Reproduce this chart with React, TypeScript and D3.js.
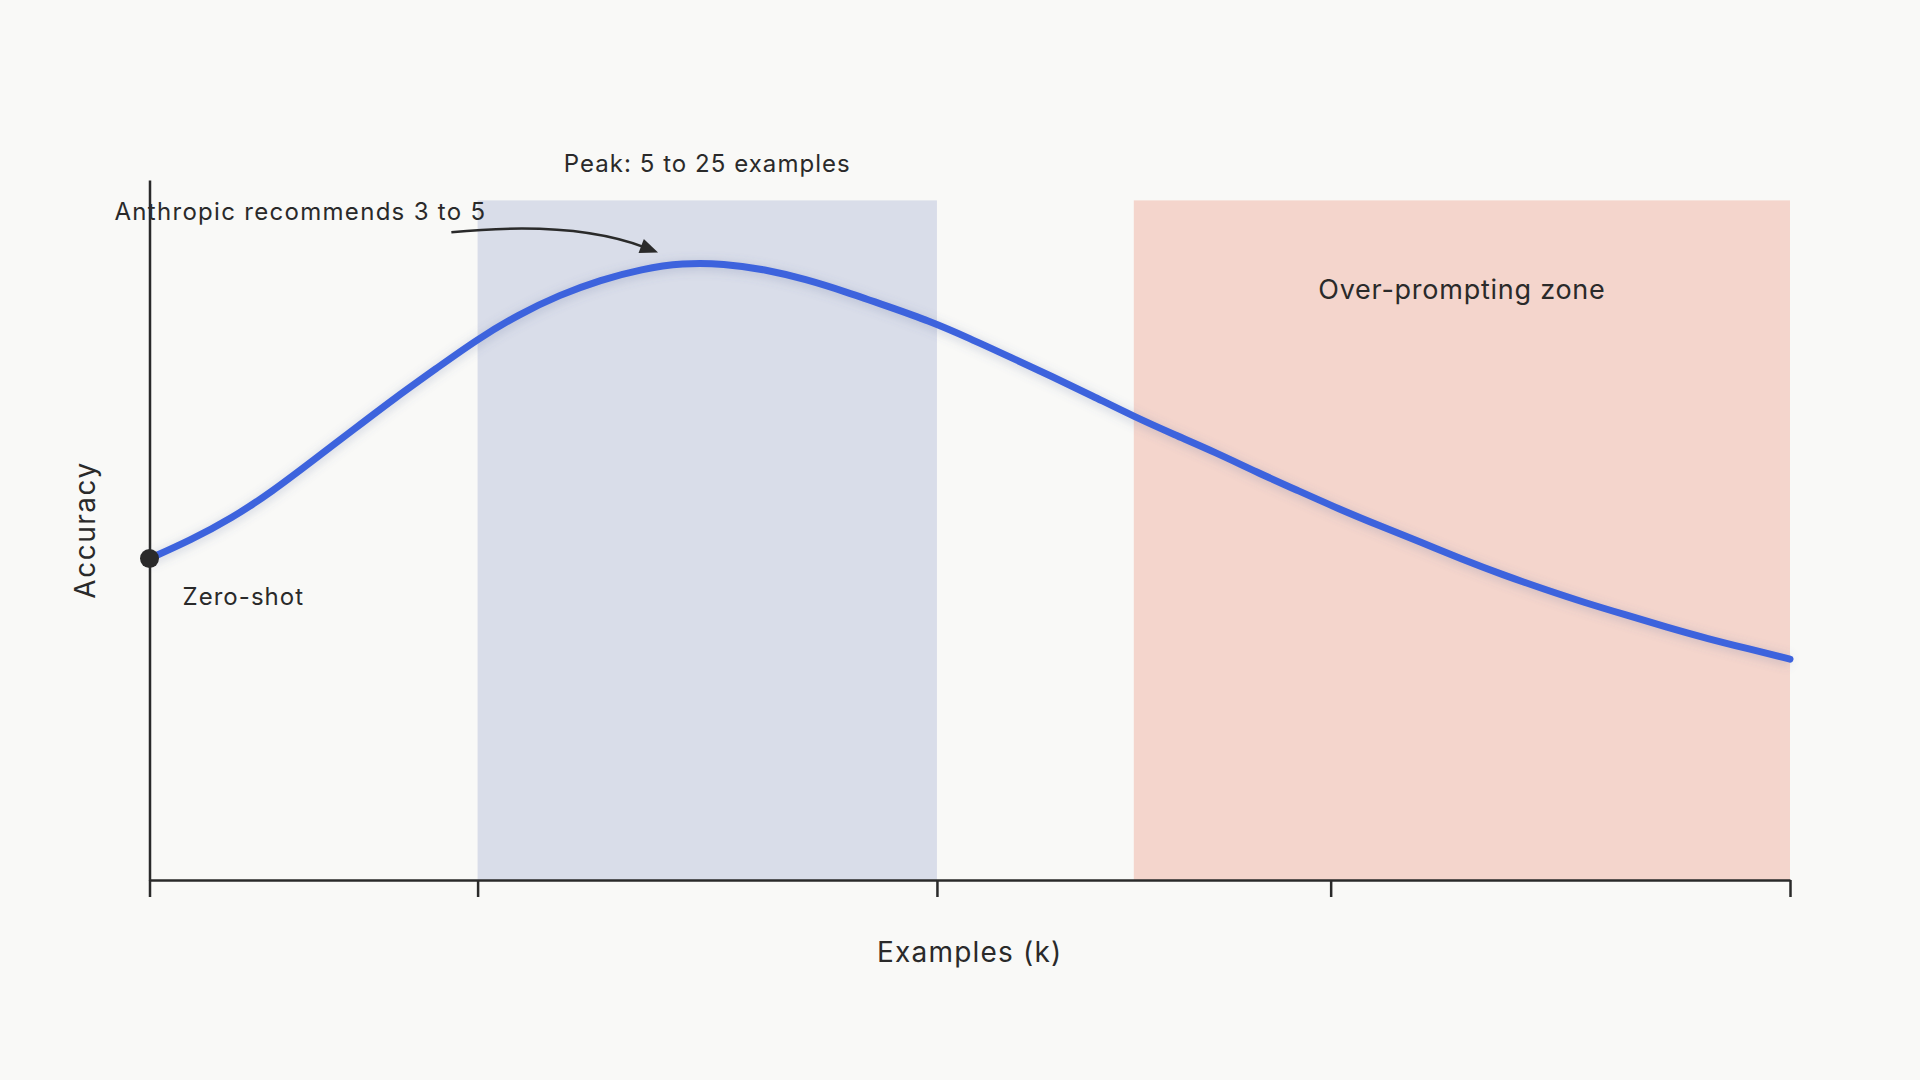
import React, { useEffect, useRef } from 'react';
import * as d3 from 'd3';

// ---- data ----
const curveX = [0, 2.5, 5, 7.5, 10, 12.5, 15, 17.5, 20, 22.5, 25, 27.5, 30, 32.5, 35, 37.5, 40, 42.5, 45, 47.5, 50, 52.5, 55, 57.5, 60, 62.5, 65, 67.5, 70, 72.5, 75, 77.5, 80, 82.5, 85, 87.5, 90, 92.5, 95, 97.5, 100];
const curveY = [47.3, 50.0, 53.2, 57.2, 61.8, 66.4, 71.0, 75.3, 79.6, 83.2, 86.1, 88.3, 89.9, 90.8, 90.7, 89.85, 88.4, 86.5, 84.4, 82.3, 79.7, 76.9, 74.1, 71.2, 68.2, 65.5, 62.9, 60.0, 57.3, 54.6, 52.1, 49.7, 47.2, 44.9, 42.8, 40.8, 39.0, 37.2, 35.5, 34.0, 32.5];
const xTicks = [0, 20, 48, 72, 100];
const peakBand = [20, 48];
const overBand = [60, 100];
const bandTop = [100];
const zeroShot = [0, 47.3];
const arrowStart = [18.4, 95.3];
const arrowControl = [25.77, 97.1];
const arrowEnd = [31.0, 92.35];
const labels = {
  xAxis: 'Examples (k)',
  yAxis: 'Accuracy',
  peak: 'Peak: 5 to 25 examples',
  over: 'Over-prompting zone',
  anthropic: 'Anthropic recommends 3 to 5',
  zero: 'Zero-shot',
};

const W = 1920;
const H = 1080;
const BG = '#f9f9f7';
const INK = '#2a2a2a';
const FONT = 'Inter, "Noto Sans", sans-serif';

export default function App() {
  const xAxisRef = useRef<SVGGElement>(null);
  const yAxisRef = useRef<SVGGElement>(null);

  const x = d3.scaleLinear().domain([0, 100]).range([149.5, 1790]);
  const y = d3.scaleLinear().domain([0, 103]).range([880, 180]);

  const pts: [number, number][] = curveX.map((v, i) => [v, curveY[i]]);
  const line = d3
    .line<[number, number]>()
    .x((d) => x(d[0]))
    .y((d) => y(d[1]))
    .curve(d3.curveBasis);
  const linePath = line(pts) || '';

  useEffect(() => {
    document.body.style.margin = '0';
    document.body.style.background = BG;
    if (xAxisRef.current) {
      const g = d3.select(xAxisRef.current);
      g.selectAll('*').remove();
      g.call(
        d3
          .axisBottom(x)
          .tickValues(xTicks)
          .tickFormat(() => '')
          .tickSize(17)
          .tickSizeOuter(0)
      );
      g.selectAll('path, line').attr('stroke', INK).attr('stroke-width', 2.5);
    }
    if (yAxisRef.current) {
      const g = d3.select(yAxisRef.current);
      g.selectAll('*').remove();
      g.call(d3.axisLeft(y).tickValues([]).tickSizeOuter(0));
      g.selectAll('path').attr('stroke', INK).attr('stroke-width', 2.5);
    }
  }, []);

  // arrow geometry from data coords
  const p0 = [x(arrowStart[0]), y(arrowStart[1])];
  const pc = [x(arrowControl[0]), y(arrowControl[1])];
  const p2 = [x(arrowEnd[0]), y(arrowEnd[1])];
  const qp = d3.path();
  qp.moveTo(p0[0], p0[1]);
  const dx = p2[0] - pc[0];
  const dy = p2[1] - pc[1];
  const len = Math.hypot(dx, dy);
  const ux = dx / len;
  const uy = dy / len;
  const headL = 18;
  const headW = 7.5;
  const bx = p2[0] - ux * headL;
  const by = p2[1] - uy * headL;
  qp.quadraticCurveTo(pc[0], pc[1], bx + ux * 3, by + uy * 3);
  const head = `M${p2[0]},${p2[1]}L${bx - uy * headW},${by + ux * headW}L${bx + uy * headW},${by - ux * headW}Z`;

  const yMid = (y.range()[0] + y.range()[1]) / 2;

  return (
    <svg
      width={W}
      height={H}
      viewBox={`0 0 ${W} ${H}`}
      style={{ position: 'absolute', left: 0, top: 0, display: 'block' }}
    >
      <defs>
        <filter id="glow" x="-10%" y="-30%" width="120%" height="160%">
          <feGaussianBlur stdDeviation="4" />
        </filter>
      </defs>
      <rect x={0} y={0} width={W} height={H} fill={BG} />

      {/* bands */}
      <rect
        x={x(peakBand[0])}
        y={y(bandTop[0])}
        width={x(peakBand[1]) - x(peakBand[0])}
        height={y(0) - y(bandTop[0])}
        fill="#d9dde9"
      />
      <rect
        x={x(overBand[0])}
        y={y(bandTop[0])}
        width={x(overBand[1]) - x(overBand[0])}
        height={y(0) - y(bandTop[0])}
        fill="#f4d5cc"
      />

      {/* axes */}
      <g ref={xAxisRef} transform={`translate(0,${y(0)})`} />
      <g ref={yAxisRef} transform={`translate(${x(0)},0)`} />

      {/* curve */}
      <path d={linePath} fill="none" stroke="#5a6a9a" strokeOpacity={0.18} strokeWidth={12} filter="url(#glow)" transform="translate(0,2)" />
      <path d={linePath} fill="none" stroke="#3d63dd" strokeWidth={7} strokeLinecap="round" strokeLinejoin="round" />

      {/* zero-shot dot */}
      <circle cx={x(zeroShot[0])} cy={y(zeroShot[1])} r={9.5} fill={INK} />

      {/* arrow */}
      <path d={qp.toString()} fill="none" stroke={INK} strokeWidth={2.5} />
      <path d={head} fill={INK} />

      {/* texts */}
      <g fontFamily={FONT} fill={INK}>
        <text x={(x(peakBand[0]) + x(peakBand[1])) / 2} y={y(bandTop[0]) - 28} textAnchor="middle" fontSize={24} letterSpacing={1.05}>
          {labels.peak}
        </text>
        <text x={(x(overBand[0]) + x(overBand[1])) / 2} y={y(bandTop[0]) + 99} textAnchor="middle" fontSize={27} letterSpacing={0.75}>
          {labels.over}
        </text>
        <text x={x(0) - 35} y={y(bandTop[0]) + 19.5} textAnchor="start" fontSize={24} letterSpacing={1.3}>
          {labels.anthropic}
        </text>
        <text x={x(zeroShot[0]) + 33} y={y(zeroShot[1]) + 46} textAnchor="start" fontSize={24} letterSpacing={1.05}>
          {labels.zero}
        </text>
        <text x={(x.range()[0] + x.range()[1]) / 2} y={y(0) + 82} textAnchor="middle" fontSize={28} letterSpacing={1.2}>
          {labels.xAxis}
        </text>
        <text
          transform={`translate(95,${yMid}) rotate(-90)`}
          textAnchor="middle"
          fontSize={28}
          letterSpacing={1.5}
        >
          {labels.yAxis}
        </text>
      </g>
    </svg>
  );
}
